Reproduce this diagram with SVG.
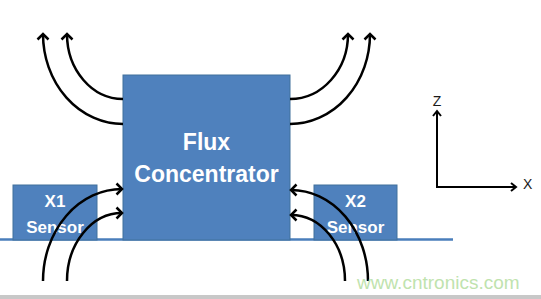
<svg xmlns="http://www.w3.org/2000/svg" width="541" height="299" viewBox="0 0 541 299">
  <style>
    .box { fill: #4F81BD; stroke: #41719C; stroke-width: 1; }
    .lbl { font-family: "Liberation Sans", Arial, sans-serif; font-weight: bold; fill: #ffffff; text-anchor: middle; }
    .flux { font-size: 23px; }
    .sens { font-size: 17px; }
    .flow { fill: none; stroke: #000000; stroke-width: 2.5; }
    .axis { fill: none; stroke: #000000; stroke-width: 2; }
    .axl { font-family: "Liberation Sans", Arial, sans-serif; font-size: 14px; fill: #1a1a1a; }
  </style>
  <defs>
    <marker id="open" markerUnits="userSpaceOnUse" markerWidth="20" markerHeight="20" refX="0" refY="0" orient="auto" viewBox="-10 -10 20 20" overflow="visible">
      <path d="M-5.5,-5.5 L0,0 L-5.5,5.5" fill="none" stroke="#000000" stroke-width="2.5" stroke-linejoin="miter"/>
    </marker>
    <marker id="small" markerUnits="userSpaceOnUse" markerWidth="20" markerHeight="20" refX="0" refY="0" orient="auto" viewBox="-10 -10 20 20" overflow="visible">
      <path d="M-5,-4 L0,0 L-5,4" fill="none" stroke="#000000" stroke-width="2"/>
    </marker>
  </defs>
  <rect x="0" y="0" width="541" height="299" fill="#ffffff"/>
  <rect id="bottom-bar" x="0" y="295" width="541" height="4" fill="#c8c8c8"/>
  <line id="base" x1="0" y1="239.5" x2="453" y2="239.5" stroke="#4A7EBB" stroke-width="2.5"/>

  <g id="flux-concentrator">
    <rect class="box" x="123" y="75" width="167" height="165"/>
    <text class="lbl flux" x="206.5" y="150">Flux</text>
    <text class="lbl flux" x="206.5" y="181.5">Concentrator</text>
  </g>
  <g id="x1-sensor">
    <rect class="box" x="13" y="185" width="84" height="55"/>
    <text class="lbl sens" x="55" y="207">X1</text>
    <text class="lbl sens" x="55" y="233">Sensor</text>
  </g>
  <g id="x2-sensor">
    <rect class="box" x="314" y="185" width="83" height="55"/>
    <text class="lbl sens" x="355.5" y="207">X2</text>
    <text class="lbl sens" x="355.5" y="233">Sensor</text>
  </g>

  <g id="axes">
    <path class="axis" d="M437,187 L437,111" marker-end="url(#small)"/>
    <path class="axis" d="M436,187 L516,187" marker-end="url(#small)"/>
    <text class="axl" x="437" y="106" text-anchor="middle">Z</text>
    <text class="axl" x="523" y="188.5">X</text>
  </g>

  <g id="connectors">
    <path class="flow" d="M123,124 A80,90 0 0 1 43,34" marker-end="url(#open)"/>
    <path class="flow" d="M123,99 A56,65 0 0 1 67,34" marker-end="url(#open)"/>
    <path class="flow" d="M290,99 A58,65 0 0 0 348,34" marker-end="url(#open)"/>
    <path class="flow" d="M290,124 A80,90 0 0 0 370,34" marker-end="url(#open)"/>
    <path class="flow" d="M43,281 A79,92 0 0 1 122,189" marker-end="url(#open)"/>
    <path class="flow" d="M67,281 A55,68 0 0 1 122,213" marker-end="url(#open)"/>
    <path class="flow" d="M368,281 A77,91 0 0 0 291,190" marker-end="url(#open)"/>
    <path class="flow" d="M345,281 A54,66 0 0 0 291,215" marker-end="url(#open)"/>
  </g>

  <text id="watermark" x="357" y="289" font-family="Liberation Sans, Arial, sans-serif" font-size="19" fill="#bfe3ae">www.cntronics.com</text>
</svg>
